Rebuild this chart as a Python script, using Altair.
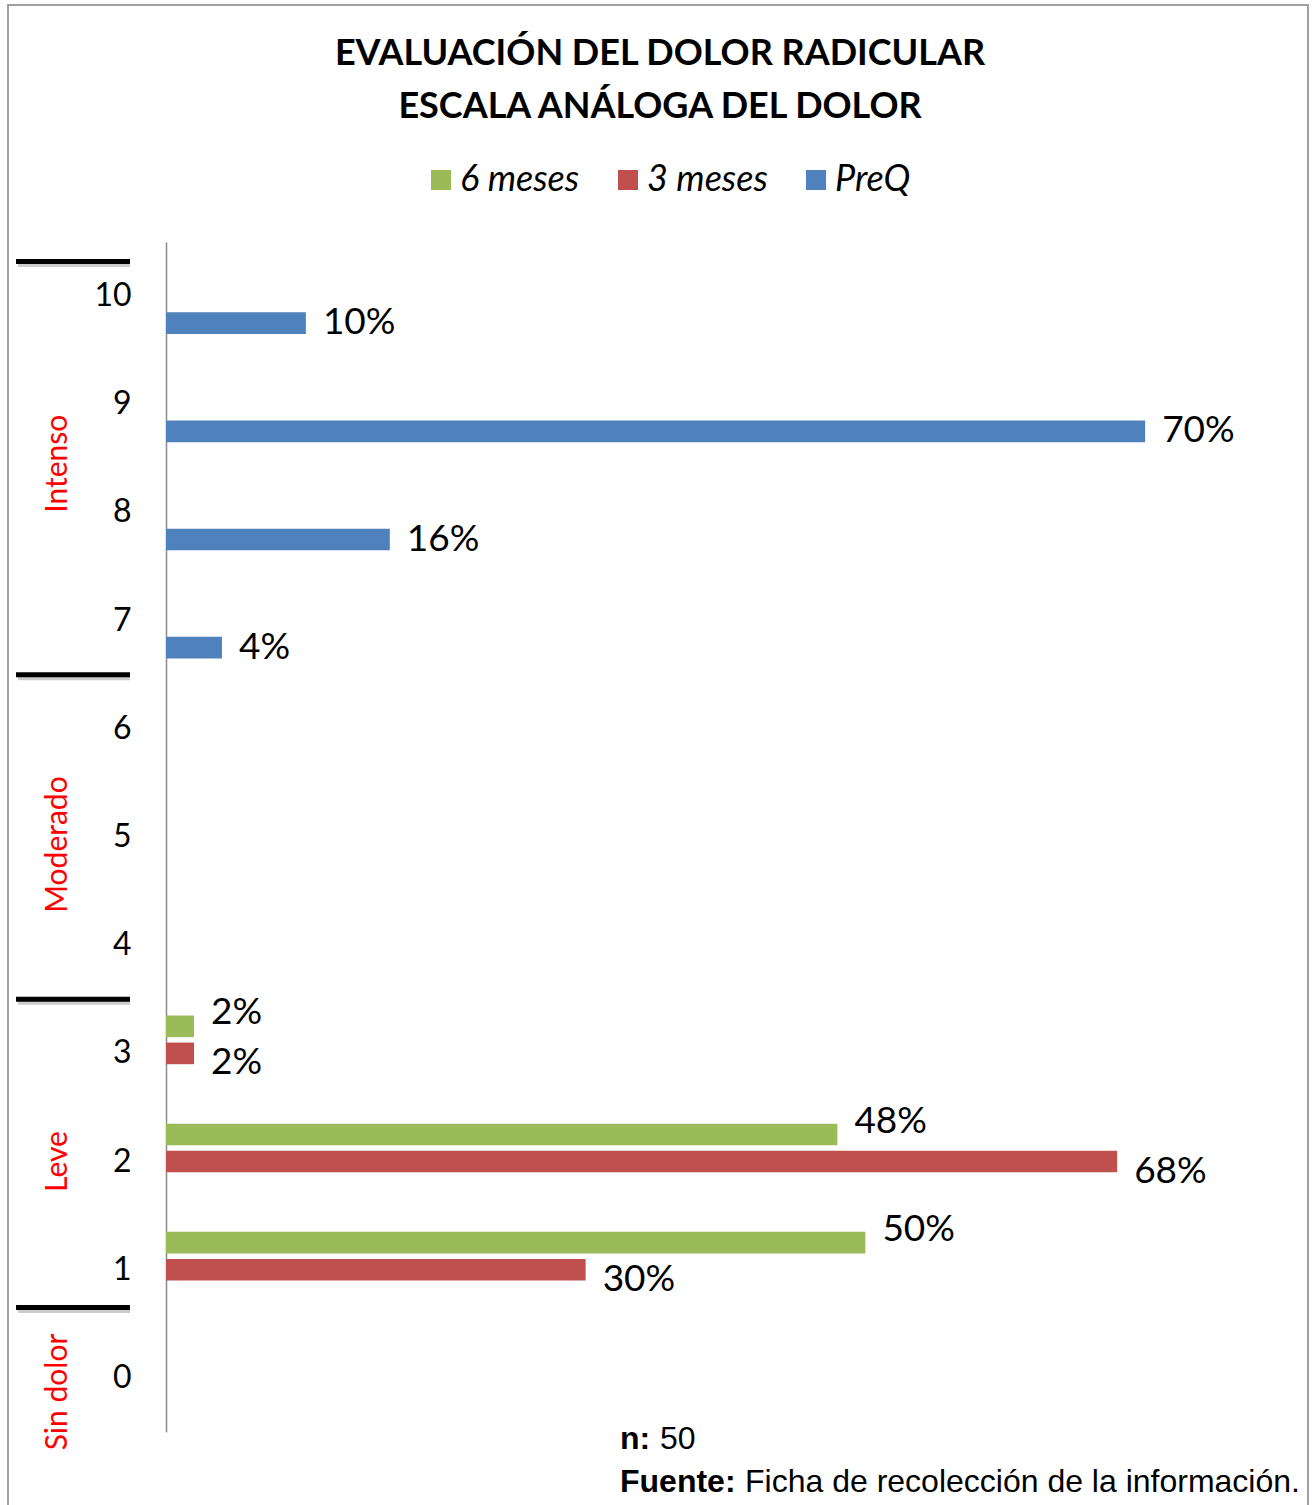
import altair as alt
import pandas as pd

# ---- data ----
scores = ["10", "9", "8", "7", "6", "5", "4", "3", "2", "1", "0"]
series = ["6 meses", "3 meses", "PreQ"]
colors = ["#9BBB59", "#C0504D", "#4F81BD"]

preq = [10, 70, 16, 4, 0, 0, 0, 0, 0, 0, 0]
meses3 = [0, 0, 0, 0, 0, 0, 0, 2, 68, 30, 0]
meses6 = [0, 0, 0, 0, 0, 0, 0, 2, 48, 50, 0]

groups = ["Intenso", "Moderado", "Leve", "Sin dolor"]
group_mid = [8.45, 4.93, 2.0, -0.13]
group_edges = [10.32, 6.5, 3.5, 0.65]

title_lines = ["EVALUACIÓN DEL DOLOR RADICULAR", "ESCALA ANÁLOGA DEL DOLOR"]
note_bold = ["n:", "Fuente:"]
note_text = ["50", "Ficha de recolección de la información."]

# ---- tables ----
rows = []
for s, vals in zip(series, [meses6, meses3, preq]):
    for sc, v in zip(scores, vals):
        if v > 0:
            rows.append({"score": sc, "serie": s, "pct": v, "label": f"{v}%"})
df = pd.DataFrame(rows)
grp_df = pd.DataFrame({"name": groups, "mid": group_mid})
edge_df = pd.DataFrame({"edge": group_edges})
one = pd.DataFrame({"a": [0]})

FONT = "Lato"

yband = alt.Y(
    "score:N",
    scale=alt.Scale(domain=scores, paddingInner=0.25, paddingOuter=0.125),
    axis=alt.Axis(title=None, orient="left", ticks=False, labelPadding=35, labelFontSize=32,
                  labelFont=FONT, labelColor="black", domainColor="#8c8c8c",
                  domainWidth=1.5, grid=False),
)
yoff = alt.YOffset("serie:N",
                   scale=alt.Scale(domain=series, paddingInner=0.2, paddingOuter=0.1))
xq = alt.X("pct:Q", scale=alt.Scale(domain=[0, 80]), axis=None)

bars = alt.Chart(df).mark_bar().encode(
    y=yband, yOffset=yoff, x=xq,
    color=alt.Color("serie:N", scale=alt.Scale(domain=series, range=colors),
                    legend=alt.Legend(title=None, orient="none", legendX=257, legendY=-80,
                                      padding=0, direction="horizontal", symbolType="square",
                                      symbolSize=400, symbolStrokeWidth=0,
                                      labelFontSize=36, labelFont=FONT,
                                      labelFontStyle="italic", labelColor="black",
                                      labelOffset=1, columnPadding=30)),
)


def label_layer(serie, dy):
    return alt.Chart(df).transform_filter(alt.datum.serie == serie).mark_text(
        align="left", baseline="middle", dx=17, dy=dy,
        fontSize=37, font=FONT, color="black").encode(
        y=yband, yOffset=yoff, x=xq, text="label:N")


labels = [label_layer(series[0], -13), label_layer(series[1], 10), label_layer(series[2], 0)]

yq = alt.Scale(domain=[-0.5, 10.5], nice=False, zero=False)
sep_shadow = alt.Chart(edge_df).mark_rule(color="#9a9a9a", strokeWidth=5, opacity=0.5,
                                          yOffset=3, xOffset=2).encode(
    y=alt.Y("edge:Q", scale=yq, axis=None), x=alt.value(-150), x2=alt.value(-36))
seps = alt.Chart(edge_df).mark_rule(color="black", strokeWidth=5).encode(
    y=alt.Y("edge:Q", scale=yq, axis=None), x=alt.value(-150), x2=alt.value(-36))
grp = alt.Chart(grp_df).mark_text(angle=270, color="#FF0000", fontSize=30, font=FONT,
                                  align="center", baseline="middle").encode(
    y=alt.Y("mid:Q", scale=yq, axis=None), x=alt.value(-108), text="name:N")

border = alt.Chart(one).mark_rect(fillOpacity=0, stroke="#a0a0a0", strokeWidth=2).encode(
    x=alt.value(-158), x2=alt.value(1142), y=alt.value(-237), y2=alt.value(1268))


def txt(t, x, y, size, font, bold=False, align="left"):
    kw = dict(fontSize=size, font=font, align=align, baseline="alphabetic", color="black")
    if bold:
        kw["fontWeight"] = "bold"
    return alt.Chart(pd.DataFrame({"t": [t]})).mark_text(**kw).encode(
        text="t:N", x=alt.value(x), y=alt.value(y))


title1 = txt(title_lines[0], 494, -177, 36, FONT, True, "center")
title2 = txt(title_lines[1], 494, -124, 36, FONT, True, "center")
nb1 = txt(note_bold[0], 454, 1207, 32, "Liberation Sans", True)
nt1 = txt(note_text[0], 494, 1207, 32, "Liberation Sans")
nb2 = txt(note_bold[1], 454, 1250, 32, "Liberation Sans", True)
nt2 = txt(note_text[1], 579, 1250, 32, "Liberation Sans")

band_layer = alt.layer(bars, *labels)
deco_layer = alt.layer(border, sep_shadow, seps, grp, title1, title2, nb1, nt1, nb2, nt2)

chart = alt.layer(band_layer, deco_layer).resolve_scale(y="independent").properties(
    width=1119, height=1190,
    autosize=alt.AutoSizeParams(type="none"),
    padding={"left": 166, "top": 242, "right": 29, "bottom": 73},
    background="white",
).configure_view(stroke=None)

chart.save("out.html", embed_options={"renderer": "svg", "actions": False})
